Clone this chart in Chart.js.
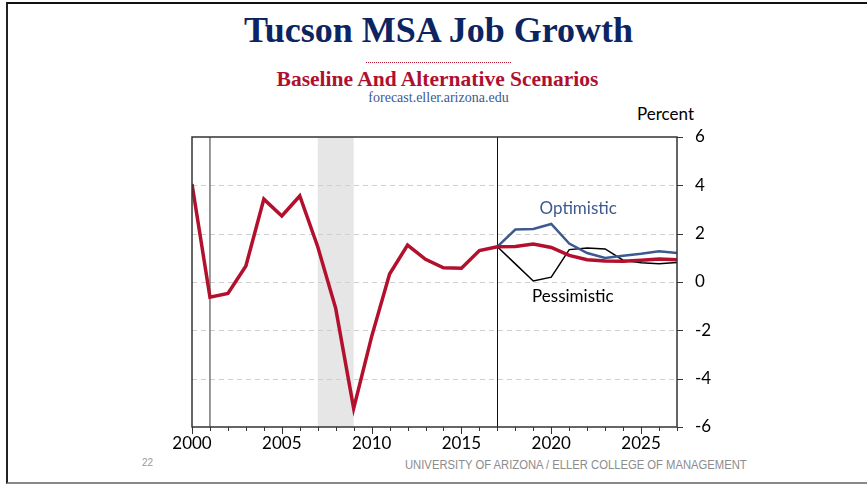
<!DOCTYPE html>
<html>
<head>
<meta charset="utf-8">
<script src="https://cdn.jsdelivr.net/npm/chart.js@4"></script>
<style>
    html, body { margin: 0; padding: 0; background: #fff; }
    body { width: 867px; height: 487px; position: relative; overflow: hidden; }
    #frame {
        position: absolute; left: 6px; top: 2px; width: 867px; height: 482px;
        border-top: 2px solid #111; border-left: 2px solid #222; border-bottom: 2px solid #888;
        box-sizing: border-box;
    }
    .txt { position: absolute; white-space: nowrap; }
    #title {
        left: 0; width: 877px; top: 9px; text-align: center;
        font: bold 36px "Liberation Serif", serif; color: #0c2461;
    }
    #rule {
        position: absolute; left: 366px; top: 62px; width: 145px; height: 0;
        border-top: 1px dotted #c0203a;
    }
    #subtitle {
        left: 0; width: 875px; top: 67px; text-align: center;
        font: bold 21.5px "Liberation Serif", serif; color: #b01030;
    }
    #source {
        left: 0; width: 877px; top: 90px; text-align: center;
        font: 14px "Liberation Serif", serif; color: #3d5a8f;
    }
    #percent { left: 637px; top: 103px; font: 17px Lato, sans-serif; color: #000; }
    #page { left: 142px; top: 457px; font: 10px "Liberation Sans", sans-serif; color: #999; }
    #footer {
        left: 405px; top: 458px; font: 12.5px "Liberation Sans", sans-serif; color: #8c8c8c;
        transform: scaleX(0.9); transform-origin: left top;
    }
    #wrap { position: absolute; left: 0; top: 0; width: 867px; height: 487px; }
</style>
</head>
<body>
<div id="frame"></div>
<div class="txt" id="title">Tucson MSA Job Growth</div>
<div id="rule"></div>
<div class="txt" id="subtitle">Baseline And Alternative Scenarios</div>
<div class="txt" id="source">forecast.eller.arizona.edu</div>
<div class="txt" id="percent">Percent</div>
<div class="txt" id="page">22</div>
<div class="txt" id="footer">UNIVERSITY OF ARIZONA / ELLER COLLEGE OF MANAGEMENT</div>
<div id="wrap"><canvas id="jobChart"></canvas></div>
<script>
// years 2000..2027
const years = [2000, 2001, 2002, 2003, 2004, 2005, 2006, 2007, 2008, 2009,
               2010, 2011, 2012, 2013, 2014, 2015, 2016, 2017, 2018, 2019,
               2020, 2021, 2022, 2023, 2024, 2025, 2026, 2027];
const baseline = [4.05, -0.63, -0.47, 0.66, 3.43, 2.73, 3.56, 1.46, -1.09, -5.23,
                  -2.26, 0.33, 1.53, 0.94, 0.59, 0.57, 1.30, 1.46, 1.47, 1.57,
                  1.43, 1.10, 0.92, 0.87, 0.86, 0.90, 0.95, 0.92];
// scenarios start at 2017
const scenarioYears = [2017, 2018, 2019, 2020, 2021, 2022, 2023, 2024, 2025, 2026, 2027];
const optimistic = [1.46, 2.17, 2.19, 2.40, 1.59, 1.20, 0.99, 1.09, 1.17, 1.27, 1.20];
const pessimistic = [1.46, 0.75, 0.04, 0.20, 1.34, 1.41, 1.37, 0.90, 0.80, 0.76, 0.81];
const yTicks = [-6, -4, -2, 0, 2, 4, 6];
const recession = [2007, 2009];
const markers = [2001, 2017];

function toPoints(xs, ys) {
    return xs.map((x, i) => ({ x: x, y: ys[i] }));
}

const decorPlugin = {
    id: 'decor',
    beforeDatasetsDraw(chart) {
        const { ctx, chartArea: a, scales: { x, y } } = chart;
        ctx.save();
        // recession shading
        ctx.fillStyle = '#e6e6e6';
        const x0 = x.getPixelForValue(recession[0]);
        const x1 = x.getPixelForValue(recession[1]);
        ctx.fillRect(x0, a.top, x1 - x0, a.bottom - a.top);
        // dashed gridlines
        ctx.strokeStyle = '#cfcfcf';
        ctx.lineWidth = 1;
        ctx.setLineDash([5, 4]);
        yTicks.forEach(v => {
            if (v === -6 || v === 6) return;
            const py = Math.round(y.getPixelForValue(v)) + 0.5;
            ctx.beginPath();
            ctx.moveTo(a.left, py);
            ctx.lineTo(a.right, py);
            ctx.stroke();
        });
        ctx.setLineDash([]);
        // vertical markers
        ctx.strokeStyle = '#777';
        ctx.lineWidth = 1.5;
        let px = x.getPixelForValue(markers[0]);
        ctx.beginPath(); ctx.moveTo(px, a.top); ctx.lineTo(px, a.bottom); ctx.stroke();
        ctx.strokeStyle = '#111';
        ctx.lineWidth = 1;
        px = Math.round(x.getPixelForValue(markers[1])) + 0.5;
        ctx.beginPath(); ctx.moveTo(px, a.top); ctx.lineTo(px, a.bottom); ctx.stroke();
        ctx.restore();
    },
    afterDatasetsDraw(chart) {
        const { ctx, chartArea: a, scales: { x, y } } = chart;
        ctx.save();
        // frame
        ctx.strokeStyle = '#333';
        ctx.lineWidth = 1.5;
        ctx.strokeRect(a.left, a.top, a.right - a.left, a.bottom - a.top);
        // x tick marks
        ctx.lineWidth = 1;
        years.forEach(v => {
            const px = Math.round(x.getPixelForValue(v)) + 0.5;
            const len = v % 5 === 0 ? 7 : 4;
            ctx.beginPath(); ctx.moveTo(px, a.bottom); ctx.lineTo(px, a.bottom + len); ctx.stroke();
        });
        // y tick marks (right side)
        yTicks.forEach(v => {
            const py = Math.round(y.getPixelForValue(v)) + 0.5;
            ctx.beginPath(); ctx.moveTo(a.right, py); ctx.lineTo(a.right + 6, py); ctx.stroke();
        });
        // scenario labels
        ctx.font = '17px Lato, sans-serif';
        ctx.textAlign = 'center';
        ctx.textBaseline = 'middle';
        ctx.fillStyle = '#3d5a8f';
        ctx.fillText('Optimistic', x.getPixelForValue(2021.5), y.getPixelForValue(3.05));
        ctx.fillStyle = '#000';
        ctx.fillText('Pessimistic', x.getPixelForValue(2021.2), y.getPixelForValue(-0.6));
        ctx.restore();
    }
};

new Chart(document.getElementById('jobChart'), {
    type: 'line',
    data: {
        datasets: [
            {
                label: 'Baseline',
                data: toPoints(years, baseline),
                borderColor: '#b3102d',
                borderWidth: 3.5,
                pointRadius: 0,
                tension: 0
            },
            {
                label: 'Optimistic',
                data: toPoints(scenarioYears, optimistic),
                borderColor: '#3d5a8f',
                borderWidth: 2.5,
                pointRadius: 0,
                tension: 0
            },
            {
                label: 'Pessimistic',
                data: toPoints(scenarioYears, pessimistic),
                borderColor: '#000',
                borderWidth: 1.5,
                pointRadius: 0,
                tension: 0
            }
        ]
    },
    options: {
        responsive: true,
        maintainAspectRatio: false,
        animation: false,
        layout: { padding: { left: 192, right: 150, top: 137, bottom: 30 } },
        plugins: {
            legend: { display: false },
            tooltip: { enabled: false }
        },
        scales: {
            x: {
                type: 'linear',
                position: 'bottom',
                min: 2000,
                max: 2027,
                grid: { display: false },
                border: { display: false },
                afterFit: s => { s.height = 30; },
                afterBuildTicks: s => { s.ticks = years.filter(v => v % 5 === 0).map(v => ({ value: v })); },
                ticks: {
                    autoSkip: false,
                    maxRotation: 0,
                    padding: -2,
                    color: '#000',
                    font: { family: 'Lato', size: 17 },
                    callback: v => String(v)
                }
            },
            y: {
                position: 'right',
                min: -6,
                max: 6,
                grid: { display: false },
                border: { display: false },
                afterFit: s => { s.width = 40; },
                afterBuildTicks: s => { s.ticks = yTicks.map(v => ({ value: v })); },
                ticks: {
                    padding: 10,
                    color: '#000',
                    font: { family: 'Lato', size: 17 }
                }
            }
        }
    },
    plugins: [decorPlugin]
});
</script>
</body>
</html>
